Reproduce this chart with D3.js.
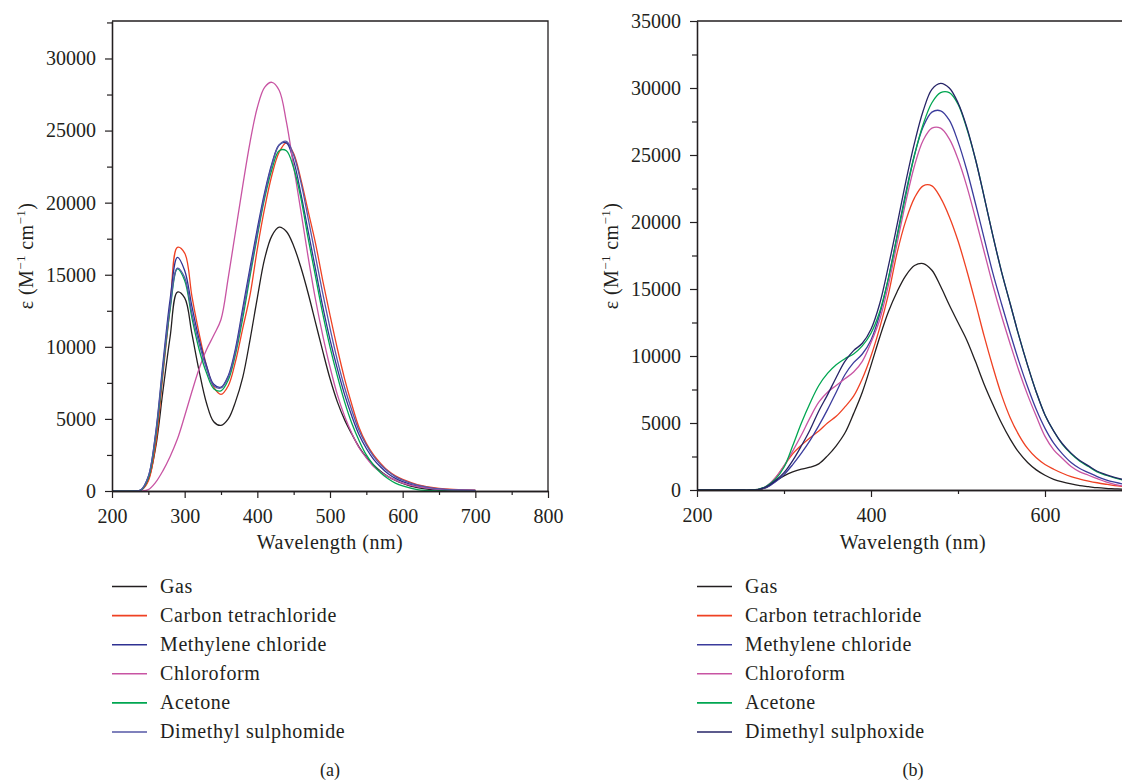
<!DOCTYPE html>
<html>
<head>
<meta charset="utf-8">
<script src="https://cdn.jsdelivr.net/npm/d3@7"></script>
<style>
body { margin: 0; background: #fff; }
svg { display: block; }
text { font-family: "Liberation Serif", "Times New Roman", serif; fill: #231f20; }
</style>
</head>
<body>
<svg width="1122" height="780"></svg>
<script>
// panel (a): wavelengths and molar absorptivity
var waveA = [200, 230, 240, 250, 260, 270, 280, 290, 300, 310, 320, 330, 340, 350, 360, 370, 380, 390, 400, 410,
    420, 430, 440, 450, 460, 470, 480, 490, 500, 510, 520, 530, 540, 550, 560, 570, 580, 590, 600, 620, 650, 700];
var gasA = [0, 0, 50, 800, 3000, 6900, 10700, 13800, 13400, 10900, 8300, 6100, 4800, 4550, 5000, 6200, 7900, 10500, 13400, 16100,
    17700, 18300, 18000, 17000, 15500, 13700, 11700, 9700, 7800, 6200, 4950, 3950, 3050, 2350, 1800, 1350, 1000, 740, 530, 230, 40, 0];
var ccl4A = [0, 0, 50, 700, 3200, 8000, 12800, 16900, 16500, 13500, 10900, 8700, 7200, 6700, 7300, 9000, 11300, 13600, 16800, 19600,
    21900, 23500, 24150, 23400, 21600, 19400, 17200, 14600, 12200, 9900, 7800, 6000, 4400, 3300, 2500, 1900, 1400, 1050, 800, 450, 180, 60];
var methA = [0, 0, 80, 1000, 4000, 8800, 13300, 16200, 15300, 12800, 10500, 8700, 7400, 7200, 8000, 9900, 12700, 15500, 18200, 20700,
    22700, 24000, 24150, 22900, 20600, 18000, 15400, 12800, 10500, 8500, 6700, 5200, 3900, 2950, 2200, 1650, 1200, 880, 650, 330, 120, 40];
var chloroA = [0, 0, 0, 100, 600, 1400, 2400, 3600, 5200, 6900, 8500, 9800, 10800, 11900, 14800, 18000, 21200, 24200, 26600, 28000,
    28350, 27800, 25600, 22500, 19400, 16200, 13300, 10800, 8600, 6700, 5200, 4000, 3000, 2300, 1700, 1300, 1000, 750, 550, 300, 120, 50];
var acetA = [0, 0, 60, 900, 3700, 8300, 12600, 15400, 14600, 12000, 9800, 8200, 7100, 6950, 7700, 9500, 12000, 14900, 17700, 20300,
    22300, 23600, 23600, 22400, 20300, 17500, 14900, 12300, 10000, 8000, 6200, 4700, 3500, 2500, 1800, 1250, 850, 550, 350, 100, 0, 0];
var dimA = [0, 0, 80, 1000, 3900, 8500, 12800, 15450, 14800, 12300, 10200, 8500, 7300, 7150, 7900, 9700, 12400, 15200, 17900, 20500,
    22600, 24000, 24250, 23300, 21400, 18900, 16300, 13700, 11300, 9100, 7200, 5600, 4200, 3200, 2400, 1800, 1350, 1000, 750, 400, 150, 50];

// panel (b)
var waveB = [200, 250, 260, 270, 280, 290, 300, 310, 320, 330, 340, 350, 360, 370, 380, 390, 400, 410, 420, 430, 440, 450,
    460, 470, 480, 490, 500, 510, 520, 530, 540, 550, 560, 570, 580, 590, 600, 610, 620, 630, 640, 650, 660, 670, 680, 690, 700];
var gasB = [0, 0, 0, 30, 200, 650, 1050, 1350, 1550, 1700, 1950, 2550, 3300, 4250, 5700, 7300, 9300, 11400, 13300, 14800, 16000, 16750,
    16900, 16400, 15200, 13800, 12500, 11200, 9600, 7900, 6400, 5000, 3800, 2800, 2050, 1500, 1100, 800, 600, 450, 330, 250, 170, 120, 90, 60, 40];
var ccl4B = [0, 0, 0, 30, 250, 900, 1800, 2700, 3350, 3900, 4400, 5000, 5500, 6200, 7000, 8300, 10000, 12100, 14600, 17700, 20100, 21800,
    22700, 22700, 21800, 20400, 18600, 16400, 14000, 11500, 9200, 7100, 5400, 4100, 3100, 2400, 1900, 1550, 1250, 1000, 820, 670, 540, 430, 330, 260, 200];
var methB = [0, 0, 0, 30, 200, 600, 1150, 1900, 2750, 3700, 4800, 6000, 7300, 8600, 9500, 10150, 11200, 13100, 15800, 19000, 22200, 25000,
    27100, 28200, 28300, 27600, 26000, 23900, 21400, 18800, 16200, 13900, 11700, 9600, 7700, 6000, 4600, 3500, 2700, 2050, 1600, 1300, 1000, 760, 580, 440, 340];
var chloroB = [0, 0, 0, 40, 300, 900, 1800, 2900, 4100, 5400, 6550, 7300, 7800, 8300, 8800, 9600, 11000, 12700, 15300, 18400, 21500, 24200,
    26100, 27000, 27000, 26200, 24700, 22700, 20300, 17800, 15300, 13000, 10900, 8900, 7100, 5500, 4000, 3000, 2350, 1750, 1350, 1100, 850, 600, 420, 300, 230];
var acetB = [0, 0, 0, 40, 300, 800, 1700, 3300, 5000, 6500, 7800, 8700, 9350, 9800, 10150, 10750, 11700, 13300, 15800, 18900, 22000, 25000,
    27300, 28900, 29650, 29650, 28800, 27000, 24700, 21900, 19000, 16300, 13900, 11500, 9300, 7300, 5600, 4400, 3400, 2700, 2150, 1750, 1350, 1100, 900, 740, 620];
var dmsoB = [0, 0, 0, 30, 250, 700, 1300, 2200, 3300, 4500, 5900, 7100, 8400, 9600, 10400, 10950, 12000, 13900, 16700, 19800, 23000, 25900,
    28300, 29900, 30350, 30000, 28900, 27100, 24700, 21900, 19000, 16300, 13900, 11500, 9300, 7300, 5600, 4400, 3450, 2750, 2200, 1800, 1400, 1150, 950, 780, 650];

var namesA = ["Gas", "Carbon tetrachloride", "Methylene chloride", "Chloroform", "Acetone", "Dimethyl sulphomide"];
var namesB = ["Gas", "Carbon tetrachloride", "Methylene chloride", "Chloroform", "Acetone", "Dimethyl sulphoxide"];
var colorsA = ["#231f20", "#ef4123", "#2e3192", "#c854a3", "#00a651", "#5557a6"];
var colorsB = ["#231f20", "#ef4123", "#3a3b9c", "#c854a3", "#00a651", "#262467"];

var svg = d3.select("svg");
var ink = "#231f20";

function panel(cfg) {
    var x = d3.scaleLinear().domain(cfg.xDomain).range(cfg.xRange);
    var y = d3.scaleLinear().domain(cfg.yDomain).range(cfg.yRange);
    var g = svg.append("g");

    var line = d3.line()
        .curve(d3.curveCatmullRom.alpha(0.5))
        .x(function (d) { return x(d[0]); })
        .y(function (d) { return y(d[1]); });

    cfg.series.forEach(function (vals, k) {
        g.append("path")
            .datum(cfg.waves.map(function (w, i) { return [w, vals[i]]; }))
            .attr("fill", "none")
            .attr("stroke", cfg.colors[k])
            .attr("stroke-width", 1.3)
            .attr("d", line);
    });

    // minor ticks first, then labelled ones
    g.append("g").attr("transform", "translate(0," + cfg.yRange[0] + ")")
        .call(d3.axisBottom(x).tickValues(cfg.xMinor).tickSize(4).tickSizeOuter(0).tickFormat(""));
    g.append("g").attr("transform", "translate(0," + cfg.yRange[0] + ")")
        .call(d3.axisBottom(x).tickValues(cfg.xTicks).tickSize(7).tickSizeOuter(0).tickPadding(11).tickFormat(d3.format("d")));
    g.append("g").attr("transform", "translate(" + cfg.xRange[0] + ",0)")
        .call(d3.axisLeft(y).tickValues(cfg.yMinor).tickSize(5).tickSizeOuter(0).tickFormat(""));
    g.append("g").attr("transform", "translate(" + cfg.xRange[0] + ",0)")
        .call(d3.axisLeft(y).tickValues(cfg.yTicks).tickSize(7).tickSizeOuter(0).tickPadding(9).tickFormat(d3.format("d")));
    // top and right frame
    g.append("path")
        .attr("d", "M" + cfg.xRange[0] + "," + cfg.yRange[1] + "H" + cfg.xRange[1] + "V" + cfg.yRange[0])
        .attr("fill", "none").attr("stroke", ink).attr("stroke-width", 1.3);

    g.selectAll(".domain").attr("stroke", ink).attr("stroke-width", 1.3);
    g.selectAll(".tick line").attr("stroke", ink).attr("stroke-width", 1.2);
    g.selectAll(".tick text").attr("font-size", 20).attr("font-family", "Liberation Serif").attr("fill", ink);

    var cx = (cfg.xRange[0] + cfg.titleRight) / 2;
    g.append("text").attr("x", cx).attr("y", 549).attr("text-anchor", "middle")
        .attr("font-size", 20).attr("letter-spacing", 0.5).text("Wavelength (nm)");

    var yl = g.append("text").attr("transform", "translate(" + cfg.yLabelX + ",256) rotate(-90)")
        .attr("text-anchor", "middle").attr("font-size", 20).attr("letter-spacing", 0.4);
    yl.append("tspan").text("\u03b5 (M");
    yl.append("tspan").attr("dy", -8).attr("font-size", 13).text("\u22121");
    yl.append("tspan").attr("dy", 8).text(" cm");
    yl.append("tspan").attr("dy", -8).attr("font-size", 13).text("\u22121");
    yl.append("tspan").attr("dy", 8).text(")");

    var leg = g.selectAll(".legend").data(cfg.names).enter().append("g")
        .attr("transform", function (d, i) { return "translate(" + cfg.xRange[0] + "," + (586.5 + i * 29.1) + ")"; });
    leg.append("line").attr("x1", 0).attr("x2", 35).attr("y1", 0).attr("y2", 0)
        .attr("stroke", function (d, i) { return cfg.colors[i]; }).attr("stroke-width", 1.6);
    leg.append("text").attr("x", 48).attr("y", 6).attr("font-size", 20).attr("letter-spacing", 0.6)
        .text(function (d) { return d; });

    g.append("text").attr("x", cx).attr("y", 776).attr("text-anchor", "middle")
        .attr("font-size", 18).text(cfg.caption);
}

panel({
    waves: waveA,
    series: [gasA, ccl4A, methA, chloroA, acetA, dimA],
    names: namesA, colors: colorsA,
    xDomain: [200, 800], xRange: [112, 548], titleRight: 548,
    yDomain: [0, 32600], yRange: [491, 21],
    xTicks: [200, 300, 400, 500, 600, 700, 800], xMinor: [250, 350, 450, 550, 650, 750],
    yTicks: [0, 5000, 10000, 15000, 20000, 25000, 30000],
    yMinor: [2500, 7500, 12500, 17500, 22500, 27500, 32500],
    yLabelX: 33, caption: "(a)"
});

panel({
    waves: waveB,
    series: [gasB, ccl4B, methB, chloroB, acetB, dmsoB],
    names: namesB, colors: colorsB,
    xDomain: [200, 700], xRange: [697, 1132], titleRight: 1129,
    yDomain: [0, 35000], yRange: [490, 21],
    xTicks: [200, 400, 600], xMinor: [300, 500, 700],
    yTicks: [0, 5000, 10000, 15000, 20000, 25000, 30000, 35000],
    yMinor: [2500, 7500, 12500, 17500, 22500, 27500, 32500],
    yLabelX: 618, caption: "(b)"
});
</script>
</body>
</html>
